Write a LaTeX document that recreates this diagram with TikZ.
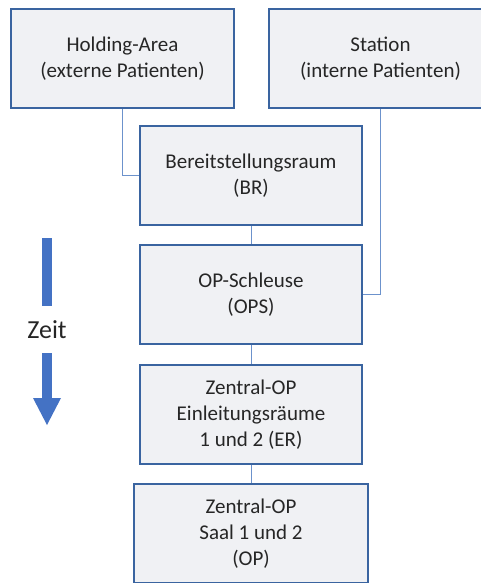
\documentclass[tikz,border=0pt]{standalone}
\usepackage{fontspec}
\setmainfont{Carlito}
\definecolor{boxline}{HTML}{3A64A0}
\definecolor{boxfill}{HTML}{F0F1F4}
\definecolor{linkline}{HTML}{6C92CC}
\definecolor{timeblue}{HTML}{4472C4}
\definecolor{txt}{HTML}{262626}
\tikzset{
  stage/.style={draw=boxline, line width=2pt, fill=boxfill, rectangle,
    minimum width=#1, minimum height=99pt, inner sep=0pt, align=center,
    text=txt, font=\fontsize{21}{26}\selectfont},
  stage/.default=222pt,
  link/.style={draw=linkline, line width=1pt},
  timebar/.style={fill=timeblue, draw=none}
}
\begin{document}
\begin{tikzpicture}[x=1pt, y=-1pt]
\useasboundingbox (0,0) rectangle (481,583);
% source areas
\node[stage=223pt] (hold) at (122.5,58.5) {Holding-Area\\(externe Patienten)};
\node[stage=223pt] (sta)  at (380.5,58.5) {Station\\(interne Patienten)};
% main flow
\node[stage] (br)  at (251,175.5) {Bereitstellungsraum\\(BR)};
\node[stage] (ops) at (251,294.5) {OP-Schleuse\\(OPS)};
\node[stage] (er)  at (251,414.5) {Zentral-OP\\Einleitungsräume\\1 und 2 (ER)};
\node[stage=234pt] (op) at (251,533.5) {Zentral-OP\\Saal 1 und 2\\(OP)};
% connectors
\draw[link] (hold.south) |- (br.west);
\draw[link] (sta.south) |- (ops.east);
\draw[link] (br.south) -- (ops.north);
\draw[link] (ops.south) -- (er.north);
\draw[link] (er.south) -- (op.north);
% time arrow
\fill[timebar] (42,238) rectangle (52,306);
\node[text=txt, font=\fontsize{26}{30}\selectfont] (zeit) at (47,330) {Zeit};
\fill[timebar] (42,353) rectangle (52,399);
\fill[timebar] (33,398) -- (61,398) -- (47,425) -- cycle;
\end{tikzpicture}
\end{document}
